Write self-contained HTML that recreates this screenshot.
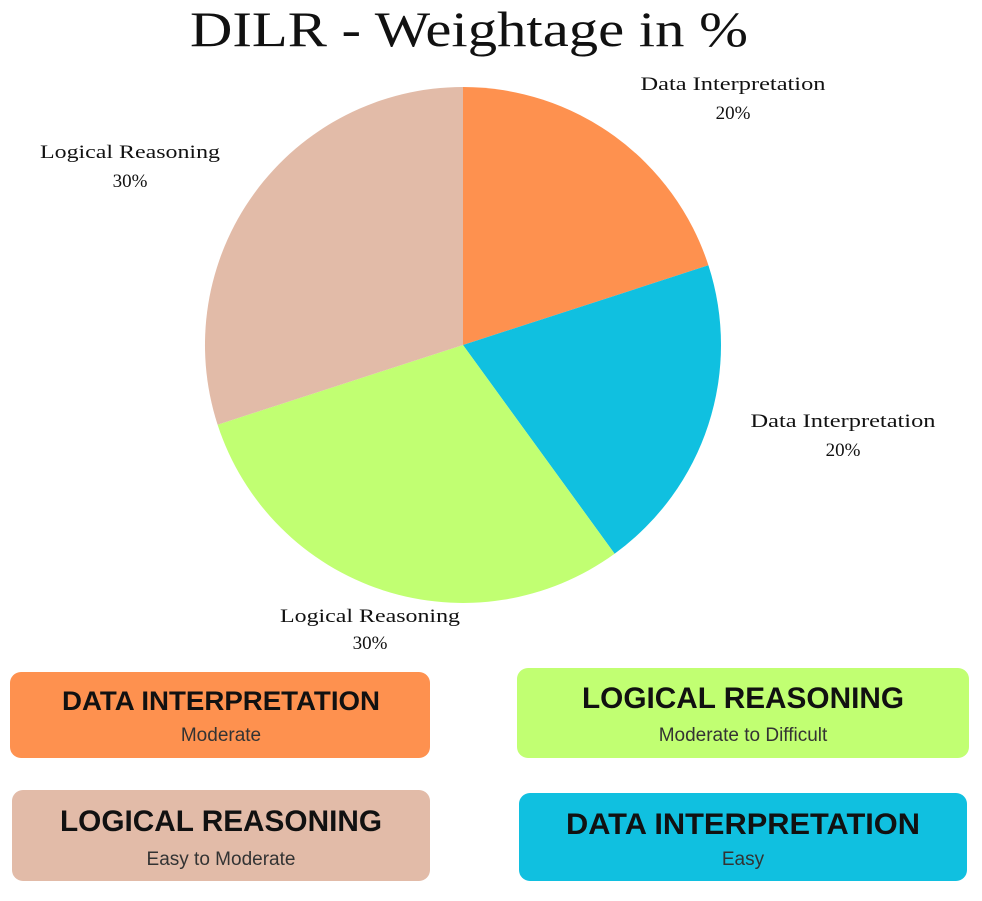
<!DOCTYPE html>
<html><head><style>body{margin:0;background:#fff;}svg{display:block}</style></head>
<body>
<svg width="982" height="901" viewBox="0 0 982 901" xmlns="http://www.w3.org/2000/svg">
<rect width="982" height="901" fill="#fff"/>
<text x="469" y="46" text-anchor="middle" font-family="Liberation Serif, serif" font-size="50" fill="#111" textLength="558" lengthAdjust="spacingAndGlyphs">DILR - Weightage in %</text>
<!-- pie center 463,345 r 258 -->
<path d="M463,345 L463,87 A258,258 0 0 1 708.4,265.3 Z" fill="#FE914F"/>
<path d="M463,345 L708.4,265.3 A258,258 0 0 1 614.6,553.7 Z" fill="#10C0E0"/>
<path d="M463,345 L614.6,553.7 A258,258 0 0 1 217.6,424.7 Z" fill="#C1FF72"/>
<path d="M463,345 L217.6,424.7 A258,258 0 0 1 463,87 Z" fill="#E2BBA8"/>
<g font-family="Liberation Serif, serif" font-size="19" fill="#111" text-anchor="middle">
<text x="733" y="90" textLength="185" lengthAdjust="spacingAndGlyphs">Data Interpretation</text>
<text x="733" y="119">20%</text>
<text x="130" y="158" textLength="180" lengthAdjust="spacingAndGlyphs">Logical Reasoning</text>
<text x="130" y="187">30%</text>
<text x="843" y="427" textLength="185" lengthAdjust="spacingAndGlyphs">Data Interpretation</text>
<text x="843" y="456">20%</text>
<text x="370" y="622" textLength="180" lengthAdjust="spacingAndGlyphs">Logical Reasoning</text>
<text x="370" y="649">30%</text>
</g>
<rect x="10" y="672" width="420" height="86" rx="11" fill="#FE914F"/>
<rect x="517" y="668" width="452" height="90" rx="11" fill="#C1FF72"/>
<rect x="12" y="790" width="418" height="91" rx="11" fill="#E2BBA8"/>
<rect x="519" y="793" width="448" height="88" rx="11" fill="#10C0E0"/>
<g font-family="Liberation Sans, sans-serif" font-weight="bold" fill="#111" text-anchor="middle">
<text x="221" y="710" font-size="27" textLength="318" lengthAdjust="spacingAndGlyphs">DATA INTERPRETATION</text>
<text x="743" y="708" font-size="30" textLength="322" lengthAdjust="spacingAndGlyphs">LOGICAL REASONING</text>
<text x="221" y="831" font-size="30" textLength="322" lengthAdjust="spacingAndGlyphs">LOGICAL REASONING</text>
<text x="743" y="834" font-size="30" textLength="354" lengthAdjust="spacingAndGlyphs">DATA INTERPRETATION</text>
</g>
<g font-family="Liberation Sans, sans-serif" font-size="19" fill="#333" text-anchor="middle">
<text x="221" y="741">Moderate</text>
<text x="743" y="741">Moderate to Difficult</text>
<text x="221" y="865">Easy to Moderate</text>
<text x="743" y="865">Easy</text>
</g>
</svg>
</body></html>
